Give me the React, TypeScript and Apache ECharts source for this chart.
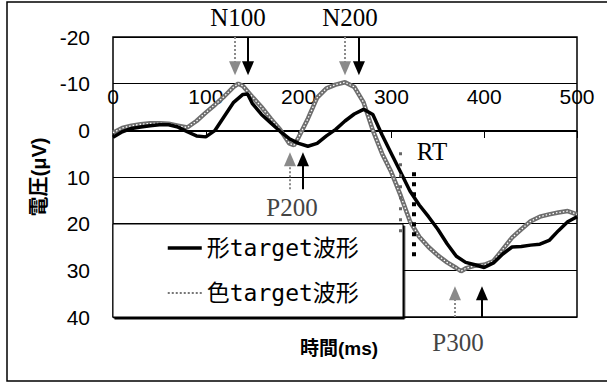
import React, { useEffect, useRef } from 'react';
import * as echarts from 'echarts';

// 色target波形 (gray, checkered line)
const colorTimes = [0, 10, 20, 30, 40, 50, 60, 70, 80, 90, 100, 110, 120, 130, 135, 140, 150, 160, 170, 180, 190, 195, 200, 210, 220, 230, 240, 250, 260, 270, 280, 290, 300, 310, 320, 330, 340, 350, 360, 370, 375, 380, 390, 400, 410, 420, 430, 440, 450, 460, 470, 480, 490, 500];
const colorValues = [0.5, -0.5, -1.0, -1.3, -1.5, -1.5, -1.4, -1.0, -0.6, -2.0, -3.8, -5.5, -7.3, -9.3, -10.0, -9.5, -7.2, -5.0, -2.5, -0.2, 2.8, 3.2, 1.5, -2.5, -7.0, -9.0, -9.8, -10.3, -9.3, -6.0, 0.0, 5.0, 9.0, 14.0, 19.5, 22.8, 25.0, 26.8, 28.3, 29.5, 30.2, 29.6, 29.0, 28.8, 28.0, 25.5, 23.0, 21.2, 19.5, 18.5, 18.0, 17.6, 17.3, 18.0];

// 形target波形 (black, thick line)
const shapeTimes = [0, 10, 20, 30, 40, 50, 60, 70, 80, 90, 100, 110, 120, 130, 140, 145, 150, 160, 170, 180, 190, 200, 210, 220, 230, 240, 250, 260, 270, 280, 290, 300, 310, 320, 330, 340, 350, 360, 370, 380, 390, 400, 410, 420, 430, 440, 450, 460, 470, 480, 490, 500];
const shapeValues = [1.5, 0.3, -0.4, -0.7, -1.0, -1.2, -1.2, -0.7, 0.3, 1.2, 1.4, 0.0, -3.0, -6.0, -7.7, -7.8, -5.8, -3.4, -1.6, 0.2, 1.8, 2.8, 3.4, 2.8, 1.2, -0.2, -2.0, -3.5, -4.5, -3.4, 1.0, 5.0, 9.0, 13.0, 16.0, 18.5, 21.2, 24.3, 27.0, 28.3, 28.8, 29.4, 28.4, 26.5, 25.0, 24.9, 24.6, 24.4, 23.6, 21.5, 19.6, 18.5];

// Peak latency arrows (ms): [N100, N200] down arrows, [P200, P300] up arrows
const downArrowGray = [131.5, 250];
const downArrowBlack = [145.5, 265];
const upArrowGray = [190.7, 368.5];
const upArrowBlack = [204.7, 397.6];
// RT markers: [time, from, to]
const rtGray = [309, 4.7, 23.4];
const rtBlack = [324, 9, 27];

const SERIES_SHAPE = '形target波形';
const SERIES_COLOR = '色target波形';

function arrowLines(down: number[], up: number[]) {
  return [
    [{ coord: [down[0], -20] }, { coord: [down[0], -13.3] }],
    [{ coord: [down[1], -20] }, { coord: [down[1], -13.3] }],
    [{ coord: [up[0], 12.6] }, { coord: [up[0], 6.2] }],
    [{ coord: [up[1], 40] }, { coord: [up[1], 34.9] }],
  ];
}

export default function App() {
  const ref = useRef<HTMLDivElement>(null);
  useEffect(() => {
    if (!ref.current) return;
    const chart = echarts.init(ref.current, undefined, { renderer: 'svg' });
    const serif = '25px "Liberation Serif", serif';
    chart.setOption({
      animation: false,
      grid: { left: 113, top: 37, width: 464, height: 280, show: true, borderColor: '#000', borderWidth: 1.5, outerBoundsMode: 'none', containLabel: false },
      xAxis: {
        type: 'value', min: 0, max: 500, interval: 100,
        position: 'bottom', offset: -186,
        axisLine: { onZero: false, lineStyle: { color: '#000', width: 1 } },
        axisTick: { show: true, inside: false, length: 7, lineStyle: { color: '#000' } },
        axisLabel: { inside: true, margin: 24, fontSize: 21, fontFamily: '"Liberation Sans", Arial', color: '#000' },
        splitLine: { show: false },
        name: '時間(ms)', nameLocation: 'middle', nameGap: 208,
        nameTextStyle: { fontSize: 19, fontWeight: 'bold', color: '#000', fontFamily: '"Liberation Sans", "Noto Sans CJK JP"', padding: [0, 12, 0, 0] },
      },
      yAxis: {
        type: 'value', min: -20, max: 40, interval: 10, inverse: true,
        axisLine: { show: false }, axisTick: { show: false },
        axisLabel: { fontSize: 21, margin: 23, color: '#000', fontFamily: '"Liberation Sans", Arial' },
        splitLine: { show: true, lineStyle: { color: '#000', width: 1 } },
        name: '電圧(μV)', nameLocation: 'middle', nameGap: 62, nameRotate: 90,
        nameTextStyle: { fontSize: 20, fontWeight: 'bold', color: '#000', fontFamily: '"Liberation Sans", "Noto Sans CJK JP"' },
      },
      legend: {
        data: [
          { name: SERIES_SHAPE, lineStyle: { color: '#000', width: 3.5 } },
          { name: SERIES_COLOR, lineStyle: { color: '#777', width: 2, type: 'dotted' } },
        ],
        orient: 'vertical', left: 166, top: 235, itemWidth: 34, itemHeight: 14, itemGap: 19, padding: 0,
        selectedMode: false,
        itemStyle: { opacity: 0 },
        textStyle: { fontSize: 23, lineHeight: 26, color: '#000', fontFamily: '"DejaVu Sans Mono", "Noto Sans CJK JP"' },
      },
      graphic: [
        { type: 'rect', z: 0, silent: true, shape: { x: 7, y: 2, width: 640, height: 379 }, style: { fill: 'none', stroke: '#000', lineWidth: 1.5 } },
        { type: 'rect', z: 1, silent: true, shape: { x: 113, y: 224, width: 290, height: 93 }, style: { fill: '#fff', stroke: '#000', lineWidth: 1, shadowColor: '#000', shadowOffsetX: 1.5, shadowOffsetY: 2, shadowBlur: 0 } },
        { type: 'text', z: 5, x: 238, y: 17, style: { text: 'N100', font: serif, fill: '#000', align: 'center', verticalAlign: 'middle' } },
        { type: 'text', z: 5, x: 350, y: 17, style: { text: 'N200', font: serif, fill: '#000', align: 'center', verticalAlign: 'middle' } },
        { type: 'text', z: 5, x: 292, y: 207, style: { text: 'P200', font: serif, fill: '#444', align: 'center', verticalAlign: 'middle' } },
        { type: 'text', z: 5, x: 458, y: 342, style: { text: 'P300', font: serif, fill: '#444', align: 'center', verticalAlign: 'middle' } },
        { type: 'text', z: 5, x: 432, y: 151, style: { text: 'RT', font: serif, fill: '#000', align: 'center', verticalAlign: 'middle' } },
      ],
      series: [
        {
          name: SERIES_COLOR, type: 'line', z: 2, clip: false,
          data: colorTimes.map((t, i) => [t, colorValues[i]]),
          symbol: 'none', lineStyle: { color: '#6e6e6e', width: 4.5 },
          markLine: {
            silent: true, symbol: ['none', 'triangle'], symbolSize: [12, 14], label: { show: false },
            emphasis: { disabled: true },
            lineStyle: { color: '#8a8a8a', width: 2, type: 'dotted' },
            data: [
              ...arrowLines(downArrowGray, upArrowGray),
              [{ coord: [rtGray[0], rtGray[1]], symbol: 'none', lineStyle: { color: '#666', width: 3, type: [3, 8] } }, { coord: [rtGray[0], rtGray[2]], symbol: 'none' }],
            ],
          },
        },
        {
          name: 'inner', type: 'line', z: 3, clip: false,
          data: colorTimes.map((t, i) => [t, colorValues[i]]),
          symbol: 'none', lineStyle: { color: '#fff', width: 1.3, type: [1.5, 2] },
        },
        {
          name: SERIES_SHAPE, type: 'line', z: 4, clip: false,
          data: shapeTimes.map((t, i) => [t, shapeValues[i]]),
          symbol: 'none', lineStyle: { color: '#000', width: 3.5 },
          markLine: {
            silent: true, symbol: ['none', 'triangle'], symbolSize: [12, 14], label: { show: false },
            emphasis: { disabled: true },
            lineStyle: { color: '#000', width: 2, type: 'solid' },
            data: [
              ...arrowLines(downArrowBlack, upArrowBlack),
              [{ coord: [rtBlack[0], rtBlack[1]], symbol: 'none', lineStyle: { color: '#000', width: 4, type: [4, 6] } }, { coord: [rtBlack[0], rtBlack[2]], symbol: 'none' }],
            ],
          },
        },
      ],
    });
    return () => chart.dispose();
  }, []);
  return <div ref={ref} style={{ position: 'fixed', left: 0, top: 0, width: 607, height: 382, background: '#fff' }} />;
}
